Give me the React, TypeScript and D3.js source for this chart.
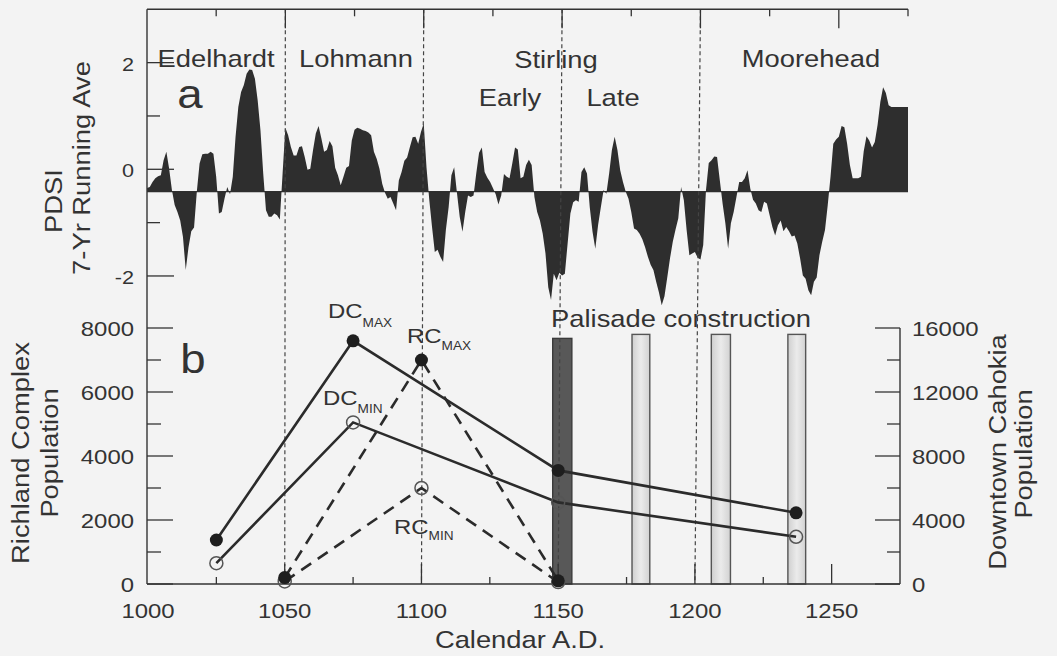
import * as d3 from 'd3';

// PDSI, 7-yr running average, one value per year starting at 1000
const pdsiStartYear = 1000;
const pdsiValues = [
  -0.35, -0.33, -0.24, -0.17, -0.13, -0.11, 0.17, 0.33, 0.01, -0.39,
  -0.67, -0.8, -0.96, -1.27, -1.89, -1.46, -1.16, -1.09, -0.42, 0.11,
  0.28, 0.29, 0.29, 0.33, 0.29, -0.14, -0.83, -0.8, -0.55, -0.33,
  -0.47, -0.14, 0.61, 1.17, 1.45, 1.58, 1.79, 1.87, 1.86, 1.7,
  1.29, 0.73, -0.08, -0.77, -0.89, -0.89, -0.83, -0.86, -0.94, -0.08,
  0.78, 0.64, 0.42, 0.26, 0.26, 0.42, 0.43, 0.23, -0.01, 0.01,
  0.36, 0.67, 0.81, 0.58, 0.33, 0.36, 0.53, 0.43, 0.03, -0.11,
  -0.3, -0.14, 0.03, 0.06, 0.54, 0.74, 0.78, 0.76, 0.73, 0.72,
  0.69, 0.64, 0.33, 0.2, 0.01, -0.27, -0.44, -0.55, -0.52, -0.64,
  -0.77, -0.21, -0.05, 0.16, 0.22, 0.42, 0.6, 0.61, 0.48, 0.7,
  0.86, 0.04, -0.57, -1.08, -1.55, -1.51, -1.64, -1.74, -1.14, -0.71,
  -0.11, 0.04, -0.44, -0.89, -1.17, -0.8, -0.49, -0.52, -0.49, -0.07,
  0.31, 0.41, -0.05, -0.16, -0.24, -0.35, -0.47, -0.66, -0.49, -0.09,
  -0.14, -0.17, 0.11, 0.41, 0.37, -0.17, -0.14, 0.08, 0.18, 0.08,
  -0.52, -0.8, -0.96, -1.21, -1.58, -2.21, -2.45, -1.96, -2.08, -1.94,
  -1.99, -1.96, -1.39, -0.83, -0.62, -0.58, -0.61, -0.05, 0.04, -0.08,
  -0.71, -1.17, -1.49, -1.05, -0.71, -0.39, -0.46, -0.08, 0.36, 0.61,
  0.36, -0.02, -0.24, -0.42, -0.55, -0.8, -1.11, -1.14, -1.21, -1.31,
  -1.46, -1.64, -1.79, -1.89, -2.11, -2.31, -2.55, -2.38, -2.03, -1.67,
  -1.36, -1.13, -0.92, -0.33, -0.58, -1.14, -1.61, -1.58, -1.55, -1.66,
  -1.69, -1.42, -0.39, 0.12, 0.17, 0.24, 0.23, -0.21, -0.64, -1.01,
  -1.49, -1.01, -0.8, -0.52, -0.24, -0.24, -0.17, -0.02, -0.36, -0.57,
  -0.64, -0.77, -0.8, -0.61, -0.64, -0.86, -1.08, -1.24, -1.05, -0.96,
  -1.16, -1.08, -1.16, -1.26, -1.24, -1.39, -1.67, -1.99, -2.05, -2.27,
  -2.36, -2.11, -2.03, -1.61, -1.36, -1.14, -0.67, -0.14, 0.48, 0.56,
  0.61, 0.81, 0.79, 0.48, 0.08, -0.17, -0.17, -0.17, -0.14, 0.34,
  0.62, 0.54, 0.41, 0.51, 0.83, 1.26, 1.54, 1.43, 1.2, 1.17,
  1.17, 1.17, 1.17, 1.17, 1.17, 1.17,
];
const pdsiBaseline = -0.42;
const pdsiTicks = [-2, -1, 0, 1, 2];

const yearTicks = [1025, 1050, 1075, 1100, 1125, 1150, 1175, 1200, 1225, 1250, 1275];
const yearLabels = [1000, 1050, 1100, 1150, 1200, 1250];
const periodBreaks = [1050, 1100, 1150, 1200];

// population estimates
const dcYears = [1025, 1075, 1150, 1237];
const dcMax = [2750, 15200, 7100, 4450];
const dcMin = [1300, 10100, 5100, 2950];
const rcYears = [1050, 1100, 1150];
const rcMax = [200, 7000, 100];
const rcMin = [80, 3000, 60];

const leftTicks = [0, 1000, 2000, 3000, 4000, 5000, 6000, 7000, 8000];
const rightTicks = [0, 2000, 4000, 6000, 8000, 10000, 12000, 14000, 16000];

// palisade construction episodes (first one is the dark bar)
const palisadeStart = [1148, 1177, 1206, 1234];
const palisadeEnd = [1155, 1183.5, 1213, 1240.5];
const palisadeTop = 7800;

const FONT = '"Liberation Sans", Arial, Helvetica, sans-serif';
const INK = '#333';
const SX = 1.14;

type LabelProps = {
  x: number;
  y: number;
  size: number;
  anchor?: 'start' | 'middle' | 'end';
  rotate?: number;
  children: React.ReactNode;
};

const Label = ({ x, y, size, anchor = 'middle', rotate = 0, children }: LabelProps) => (
  <text
    transform={`translate(${x},${y}) rotate(${rotate}) scale(${SX},1)`}
    fontSize={size}
    textAnchor={anchor}
    fill={INK}
    fontFamily={FONT}
  >
    {children}
  </text>
);

export default function App() {
  const width = 1057;
  const height = 656;

  const xTop = d3.scaleLinear().domain([1000, 1275]).range([147, 908]);
  const xBot = d3.scaleLinear().domain([1000, 1275]).range([148, 900]);
  const yTop = d3.scaleLinear().domain([-3, 3]).range([329.3, 9.3]);
  const yLeft = d3.scaleLinear().domain([0, 8000]).range([584, 328]);
  const yRight = d3.scaleLinear().domain([0, 16000]).range([584, 328]);

  const axisX = 147;
  const frameTop = yTop(3);
  const floor = yLeft(0);
  const rightX = xBot(1275);

  const area = d3
    .area<number>()
    .x((_, i) => xTop(pdsiStartYear + i))
    .y0(yTop(pdsiBaseline))
    .y1((d) => yTop(d));

  const dcLine = (vals: number[]) =>
    d3.line<number>().x((_, i) => xBot(dcYears[i])).y((d) => yRight(d))(vals) || '';
  const rcLine = (vals: number[]) =>
    d3.line<number>().x((_, i) => xBot(rcYears[i])).y((d) => yLeft(d))(vals) || '';

  const stroke = '#2b2b2b';

  return (
    <svg
      width={width}
      height={height}
      style={{ position: 'absolute', left: 0, top: 0 }}
      fontFamily={FONT}
    >
      <defs>
        <linearGradient id="palLight" x1="0" x2="1" y1="0" y2="0">
          <stop offset="0" stopColor="#cfcfcf" />
          <stop offset="0.5" stopColor="#ebebeb" />
          <stop offset="1" stopColor="#d2d2d2" />
        </linearGradient>
      </defs>
      <rect width={width} height={height} fill="#f3f3f3" />

      {/* panel a: PDSI */}
      <path d={area(pdsiValues) || ''} fill="#2e2e2e" />
      <line
        x1={xTop(1000)}
        x2={xTop(1275)}
        y1={yTop(pdsiBaseline)}
        y2={yTop(pdsiBaseline)}
        stroke="#2e2e2e"
        strokeWidth={1.2}
      />

      {/* palisade bars */}
      {palisadeStart.map((s, i) => {
        const x0 = xBot(s);
        const x1 = xBot(palisadeEnd[i]);
        const top = yLeft(palisadeTop) + (i === 0 ? 4 : 0);
        return (
          <rect
            key={`pal${s}`}
            x={x0}
            y={top}
            width={x1 - x0}
            height={floor - top}
            fill={i === 0 ? '#585858' : 'url(#palLight)'}
            stroke={i === 0 ? '#3a3a3a' : '#555'}
            strokeWidth={1.4}
          />
        );
      })}

      {/* period boundaries */}
      {periodBreaks.map((yr) => (
        <line
          key={`brk${yr}`}
          x1={xTop(yr)}
          x2={xBot(yr)}
          y1={frameTop}
          y2={floor}
          stroke="#444"
          strokeWidth={1.2}
          strokeDasharray="4 3"
        />
      ))}

      {/* axes */}
      <line x1={axisX} x2={axisX} y1={frameTop} y2={floor} stroke={INK} strokeWidth={1.4} />
      <line x1={axisX} x2={xTop(1275)} y1={frameTop} y2={frameTop} stroke={INK} strokeWidth={1.4} />
      <line x1={axisX} x2={rightX} y1={floor} y2={floor} stroke={INK} strokeWidth={1.4} />
      <line x1={rightX} x2={rightX} y1={yRight(16000)} y2={floor} stroke={INK} strokeWidth={1.4} />

      {yearTicks.map((yr) => (
        <line
          key={`tt${yr}`}
          x1={xTop(yr)}
          x2={xTop(yr)}
          y1={frameTop}
          y2={frameTop + (yr % 50 === 0 ? 19 : 7)}
          stroke={INK}
          strokeWidth={1.3}
        />
      ))}
      {yearTicks
        .filter((yr) => yr < 1275)
        .map((yr) => (
          <line
            key={`bt${yr}`}
            x1={xBot(yr)}
            x2={xBot(yr)}
            y1={floor}
            y2={floor - (yr % 50 === 0 ? 20 : 7)}
            stroke={INK}
            strokeWidth={1.3}
          />
        ))}
      {yearLabels.map((yr) => (
        <Label key={`bl${yr}`} x={xBot(yr)} y={floor + 34} size={21}>
          {yr}
        </Label>
      ))}

      {pdsiTicks.map((v) => (
        <g key={`pt${v}`}>
          <line
            x1={axisX}
            x2={axisX + (v % 2 === 0 ? 27 : 13)}
            y1={yTop(v)}
            y2={yTop(v)}
            stroke={INK}
            strokeWidth={1.3}
          />
          {v % 2 === 0 && (
            <Label x={134} y={yTop(v) + 8} size={19} anchor="end">
              {v}
            </Label>
          )}
        </g>
      ))}

      {leftTicks.map((v) => (
        <g key={`lt${v}`}>
          <line
            x1={axisX}
            x2={axisX + (v % 2000 === 0 ? 26 : 14)}
            y1={yLeft(v)}
            y2={yLeft(v)}
            stroke={INK}
            strokeWidth={1.3}
          />
          {v % 2000 === 0 && (
            <Label x={134} y={yLeft(v) + 8} size={21} anchor="end">
              {v}
            </Label>
          )}
        </g>
      ))}

      {rightTicks.map((v) => (
        <g key={`rt${v}`}>
          <line
            x1={rightX}
            x2={rightX - (v % 4000 === 0 ? 25 : 13)}
            y1={yRight(v)}
            y2={yRight(v)}
            stroke={INK}
            strokeWidth={1.3}
          />
          {v % 4000 === 0 && (
            <Label x={912} y={yRight(v) + 8} size={21} anchor="start">
              {v}
            </Label>
          )}
        </g>
      ))}

      {/* population series */}
      <path d={dcLine(dcMax)} fill="none" stroke={stroke} strokeWidth={2.6} />
      <path d={dcLine(dcMin)} fill="none" stroke={stroke} strokeWidth={2.6} />
      <path d={rcLine(rcMax)} fill="none" stroke={stroke} strokeWidth={2.6} strokeDasharray="12 8" />
      <path d={rcLine(rcMin)} fill="none" stroke={stroke} strokeWidth={2.6} strokeDasharray="12 8" />

      {dcMin.map((v, i) => (
        <circle key={`dmin${i}`} cx={xBot(dcYears[i])} cy={yRight(v)} r={6.5} fill="none" stroke="#555" strokeWidth={1.5} />
      ))}
      {rcMin.map((v, i) => (
        <circle key={`rmin${i}`} cx={xBot(rcYears[i])} cy={yLeft(v)} r={6.5} fill="none" stroke="#555" strokeWidth={1.5} />
      ))}
      {dcMax.map((v, i) => (
        <circle key={`dmax${i}`} cx={xBot(dcYears[i])} cy={yRight(v)} r={6.5} fill="#1e1e1e" />
      ))}
      {rcMax.map((v, i) => (
        <circle key={`rmax${i}`} cx={xBot(rcYears[i])} cy={yLeft(v)} r={6.5} fill="#1e1e1e" />
      ))}

      {/* period names */}
      <Label x={216} y={67} size={24}>Edelhardt</Label>
      <Label x={356} y={67} size={24}>Lohmann</Label>
      <Label x={556} y={68} size={24}>Stirling</Label>
      <Label x={510} y={106} size={24}>Early</Label>
      <Label x={613} y={106} size={24}>Late</Label>
      <Label x={811} y={67} size={24}>Moorehead</Label>
      <Label x={190} y={108} size={40}>a</Label>
      <Label x={193} y={373} size={40}>b</Label>
      <Label x={681} y={327} size={24}>Palisade construction</Label>

      {/* series labels */}
      <Label x={328} y={318} size={21} anchor="start">
        DC<tspan fontSize={12} dy={9}>MAX</tspan>
      </Label>
      <Label x={407} y={343} size={21} anchor="start">
        RC<tspan fontSize={12} dy={7}>MAX</tspan>
      </Label>
      <Label x={323} y={405} size={21} anchor="start">
        DC<tspan fontSize={12} dy={8}>MIN</tspan>
      </Label>
      <Label x={394} y={534} size={21} anchor="start">
        RC<tspan fontSize={12} dy={6}>MIN</tspan>
      </Label>

      {/* axis titles */}
      <Label x={62} y={201} size={24} rotate={-90}>PDSI</Label>
      <Label x={90} y={168} size={24} rotate={-90}>7-Yr Running Ave</Label>
      <Label x={29} y={453} size={24} rotate={-90}>Richland Complex</Label>
      <Label x={58} y={453} size={24} rotate={-90}>Population</Label>
      <Label x={1006} y={452} size={24} rotate={-90}>Downtown Cahokia</Label>
      <Label x={1032} y={454} size={24} rotate={-90}>Population</Label>
      <Label x={520} y={648} size={24}>Calendar A.D.</Label>
    </svg>
  );
}
